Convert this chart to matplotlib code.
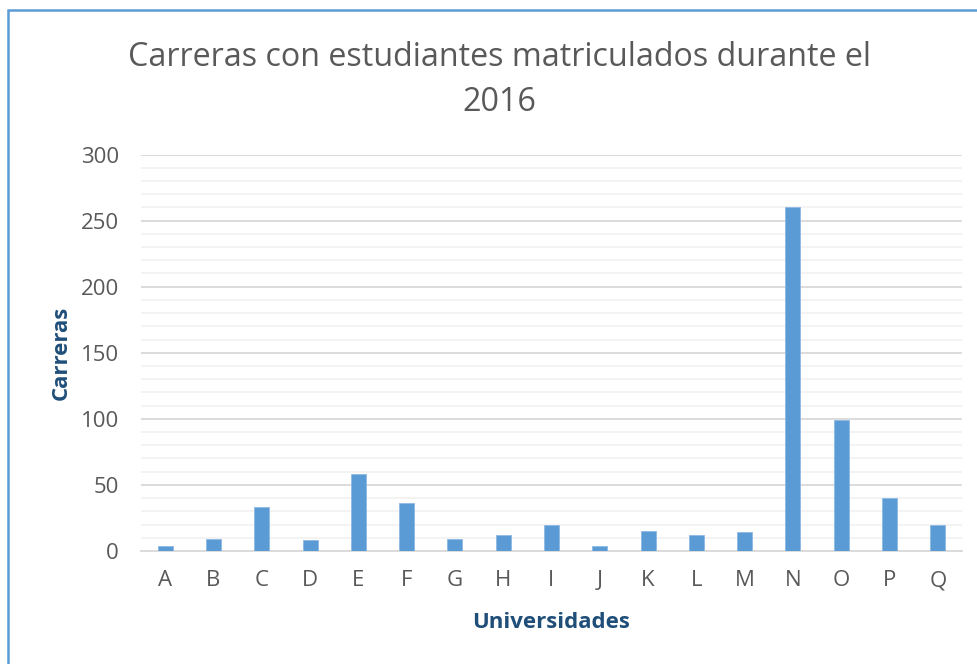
import matplotlib.pyplot as plt
from matplotlib.patches import Rectangle
from matplotlib.ticker import MultipleLocator

# data
universidades = ['A', 'B', 'C', 'D', 'E', 'F', 'G', 'H', 'I', 'J', 'K', 'L', 'M', 'N', 'O', 'P', 'Q']
carreras = [4, 9, 33, 8, 58, 36, 9, 12, 20, 4, 15, 12, 14, 260, 99, 40, 20]

bar_color = '#5B9BD5'
text_color = '#595959'
label_color = '#1F4E79'

plt.rcParams['font.family'] = ['Open Sans', 'DejaVu Sans']

fig = plt.figure(figsize=(9.78, 6.64), dpi=100)
ax = fig.add_axes([0.1442, 0.1702, 0.9836 - 0.1442, 0.7673 - 0.1702])

x = range(len(universidades))
ax.bar(x, carreras, width=0.31, color=bar_color, edgecolor='#8DB9E3', linewidth=0.6, zorder=3)

ax.set_xlim(-0.5, len(universidades) - 0.5)
ax.set_ylim(0, 300)
ax.yaxis.set_major_locator(MultipleLocator(50))
ax.yaxis.set_minor_locator(MultipleLocator(10))
ax.set_xticks(list(x))
ax.set_xticklabels(universidades)

ax.grid(True, which='major', axis='y', color='#D9D9D9', linewidth=1.3, zorder=0)
ax.grid(True, which='minor', axis='y', color='#F2F2F2', linewidth=1.3, zorder=0)
for s in ['top', 'right', 'left']:
    ax.spines[s].set_visible(False)
ax.spines['bottom'].set_color('#D9D9D9')
ax.spines['bottom'].set_linewidth(1.3)
ax.tick_params(axis='both', which='both', length=0, labelsize=16, colors=text_color)
ax.tick_params(axis='x', pad=14)
ax.tick_params(axis='y', pad=16)

ax.set_xlabel('Universidades', fontsize=16, fontweight='bold', color=label_color, labelpad=15)
ax.set_ylabel('Carreras', fontsize=16, fontweight='bold', color=label_color, labelpad=6)

fig.text(0.511, 0.939, 'Carreras con estudiantes matriculados durante el\n2016',
         ha='center', va='top', fontsize=23.2, color=text_color, linespacing=1.5)

# blue chart frame, cut off at right and bottom like the screenshot
fig.patches.append(Rectangle((8 / 978, -0.1), 1.2, 1 - 10 / 664 + 0.1, transform=fig.transFigure,
                             fill=False, edgecolor=bar_color, linewidth=1.8))

fig.savefig('out.png', dpi=100, facecolor='white')
